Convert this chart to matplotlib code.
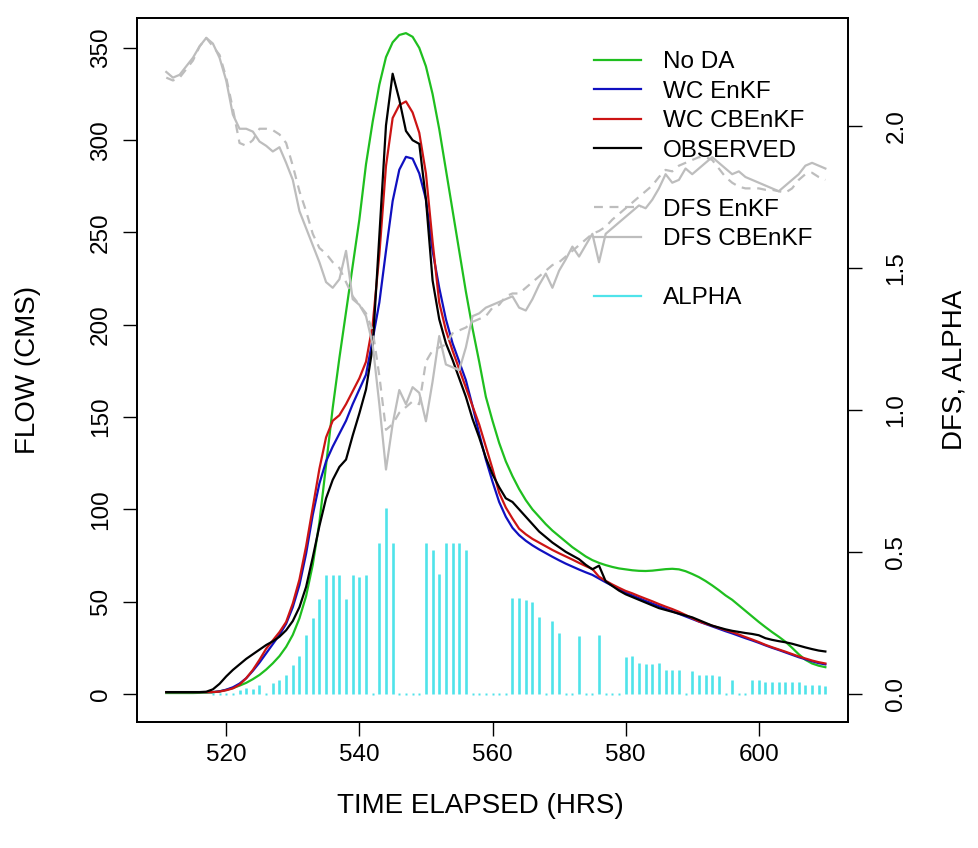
import numpy as np
import matplotlib
matplotlib.use("Agg")
import matplotlib.pyplot as plt
from matplotlib.lines import Line2D

plt.rcParams['font.family'] = ['Liberation Sans', 'DejaVu Sans']

# hourly series, 511 .. 610 hrs
hours = np.arange(511, 611)

no_da = [0.5, 0.5, 0.5, 0.5, 0.5, 0.6, 0.7, 0.9, 1.4, 2.2,
         3.2, 4.5, 6.0, 8.0, 10.3, 13.2, 16.6, 20.5, 25.5, 32,
         41, 53, 70, 93, 124, 155, 182, 207, 232, 257,
         287, 310, 330, 345, 353, 357, 358, 356, 350, 340,
         325, 306, 284, 262, 240, 218, 198, 180, 161, 148,
         136, 126, 118, 111, 105, 100, 96, 92, 88.5, 85.5,
         82.5, 79.5, 77, 74.5, 72.5, 71, 69.8, 68.8, 68, 67.5,
         67, 66.7, 66.6, 66.8, 67.2, 67.6, 67.8, 67.5, 66.5, 65,
         63.3, 61.2, 58.8, 56.2, 53.4, 51, 48, 45, 42, 39,
         36.2, 33.5, 31, 28.3, 25, 21.5, 18.5, 16.5, 15.3, 14.5]

observed = [1, 1, 1, 1, 1, 1, 1.2, 2.5, 5.5, 9.5,
            13, 16, 19, 21.5, 24, 26.5, 28.5, 31, 34.5, 39.5,
            47, 58, 74, 91, 106, 116, 123, 127, 140, 152,
            165, 188, 248, 308, 336, 322, 305, 300, 298, 268,
            224, 203, 190, 181, 171, 161, 149, 139, 128, 119,
            112, 106, 104, 100, 96, 92, 88, 85, 82, 79.5,
            77, 75, 73, 70, 67.5, 69.5, 61, 58.5, 56, 54,
            52.5, 51, 49.5, 48, 46.5, 45.5, 44.5, 43.5, 42.5, 41.5,
            40, 38.5, 37, 36, 35, 34.2, 33.6, 33, 32.5, 31.8,
            30.2, 29.3, 28.6, 28, 27.2, 26.2, 25.2, 24.3, 23.5, 23]

wc_cbenkf = [1, 1, 1, 1, 1, 1, 1, 1, 1.3, 2,
             3, 5, 8.5, 13, 18.5, 24.5, 29, 33.5, 39, 49,
             62, 80, 101, 122, 139, 148, 151, 157, 164, 171,
             180, 200, 238, 286, 312, 319, 321, 315, 304, 282,
             245, 212, 197, 186, 176, 166, 156, 146, 134, 122,
             109, 101, 95, 89.5, 86.5, 84, 82, 80, 78, 76.2,
             74.5, 72.8, 71, 69.3, 67.7, 63.5, 61.3, 59.3, 57.5, 55.8,
             54.5, 53, 51.6, 50.2, 48.7, 47.3, 46, 44.5, 42.8, 41,
             39.3, 38.1, 37, 35.8, 34.6, 33.5, 32.2, 30.8, 29.5, 28.1,
             26.6, 25.3, 24.1, 22.9, 21.6, 20.3, 19.2, 18.1, 17.2, 16.5]

wc_enkf = [1, 1, 1, 1, 1, 1, 1, 1, 1.4, 2.3,
           3.6, 5.6, 8.5, 12.5, 17, 22, 27, 32, 38, 47,
           59, 76, 97, 114, 126, 134, 141, 148, 157, 165,
           173, 192, 212, 240, 267, 284, 291, 290, 282, 268,
           240, 220, 203, 190, 180, 170, 156, 141, 127, 115,
           104, 96, 90, 86, 83, 80.5, 78.3, 76.3, 74.3, 72.4,
           70.6, 69, 67.4, 65.9, 64.5, 62.5, 60.5, 58.6, 56.8, 55,
           53.4, 51.9, 50.4, 49, 47.6, 46.2, 44.8, 43.4, 42, 40.6,
           39.2, 37.9, 36.6, 35.3, 34, 32.8, 31.5, 30.2, 29, 27.7,
           26.3, 25, 23.8, 22.5, 21.2, 19.9, 18.8, 17.7, 16.7, 16]

dfs_cbenkf = [2.19, 2.17, 2.18, 2.21, 2.24, 2.28, 2.31, 2.29, 2.24, 2.16,
              2.04, 1.99, 1.99, 1.98, 1.945, 1.93, 1.91, 1.925, 1.87, 1.81,
              1.70, 1.64, 1.58, 1.52, 1.45, 1.43, 1.46, 1.56, 1.39, 1.37,
              1.33, 1.23, 1.02, 0.79, 0.95, 1.07, 1.02, 1.08, 1.06, 0.96,
              1.10, 1.26, 1.16, 1.15, 1.14, 1.22, 1.33, 1.34, 1.36, 1.37,
              1.38, 1.39, 1.40, 1.36, 1.35, 1.39, 1.44, 1.48, 1.43, 1.49,
              1.53, 1.575, 1.54, 1.58, 1.62, 1.52, 1.62, 1.64, 1.66, 1.68,
              1.70, 1.72, 1.71, 1.74, 1.78, 1.83, 1.80, 1.81, 1.85, 1.83,
              1.85, 1.87, 1.89, 1.87, 1.85, 1.83, 1.84, 1.82, 1.81, 1.80,
              1.79, 1.78, 1.77, 1.79, 1.81, 1.83, 1.86, 1.87, 1.86, 1.85]

dfs_enkf = [2.17, 2.16, 2.17, 2.20, 2.23, 2.28, 2.31, 2.28, 2.25, 2.17,
            2.06, 1.94, 1.93, 1.95, 1.99, 1.99, 1.985, 1.97, 1.94, 1.86,
            1.77, 1.70, 1.62, 1.57, 1.55, 1.52, 1.50, 1.45, 1.40, 1.37,
            1.34, 1.28, 1.12, 0.93, 0.95, 0.99, 1.01, 1.03, 1.02, 1.17,
            1.21, 1.22, 1.23, 1.27, 1.28, 1.29, 1.31, 1.32, 1.33, 1.36,
            1.37, 1.40, 1.41, 1.41, 1.43, 1.45, 1.47, 1.49, 1.51, 1.52,
            1.54, 1.56, 1.58, 1.60, 1.62, 1.63, 1.645, 1.67, 1.69, 1.71,
            1.73, 1.75, 1.77, 1.79, 1.82, 1.845, 1.84, 1.86, 1.87, 1.88,
            1.89, 1.89, 1.88, 1.85, 1.82, 1.80, 1.786, 1.78, 1.78, 1.78,
            1.775, 1.775, 1.77, 1.765, 1.78, 1.81, 1.83, 1.835, 1.82, 1.81]

nan = np.nan
alpha = [nan, nan, nan, nan, nan, nan, nan, 0, 0, 0,
         0, 0.012, 0.02, 0.016, 0.032, 0, 0.038, 0.049, 0.065, 0.10,
         0.134, 0.208, 0.266, 0.334, 0.42, 0.42, 0.42, 0.334, 0.42, 0.413,
         0.42, 0, 0.53, 0.655, 0.53, 0, 0, 0, 0, 0.53,
         0.507, 0.422, 0.53, 0.53, 0.53, 0.507, 0, 0, 0, 0,
         0, 0, 0.337, 0.337, 0.331, 0.323, 0.269, 0, 0.258, 0.214,
         0, 0, 0.205, 0, 0, 0.207, 0, 0, 0, 0.13,
         0.135, 0.108, 0.105, 0.105, 0.108, 0.085, 0.085, 0.085, 0, 0.082,
         0.067, 0.067, 0.067, 0.063, 0, 0.049, 0, 0, 0.049, 0.049,
         0.041, 0.041, 0.041, 0.041, 0.041, 0.041, 0.032, 0.032, 0.032, 0.028]
alpha = np.array(alpha)

GREEN = '#1fbf1f'
BLUE = '#1010c0'
RED = '#cc1414'
GRAY = '#bdbdbd'
CYAN = '#4fe3ea'

fig = plt.figure(figsize=(9.79, 8.48), dpi=100)
ax = fig.add_axes([137 / 979, 1 - 722 / 848, (848 - 137) / 979, (722 - 18) / 848])

lw = 1.6
ax.plot(hours, no_da, color=GREEN, lw=lw)
ax.plot(hours, wc_enkf, color=BLUE, lw=lw)
ax.plot(hours, wc_cbenkf, color=RED, lw=lw)
ax.plot(hours, observed, color='black', lw=lw)

ax.set_xlim(506.6, 613.4)
ax.set_ylim(-15.2, 366.2)
ax.set_xticks([520, 540, 560, 580, 600])
ax.set_yticks(np.arange(0, 351, 50))
ax.tick_params(axis='both', labelsize=17.5, length=10, width=1.0, direction='out')
ax.tick_params(axis='x', pad=6)
ax.tick_params(axis='y', pad=8, labelrotation=90)
for t in ax.get_yticklabels():
    t.set_va('center')
for s in ax.spines.values():
    s.set_linewidth(1.3)

# legend (blank rows as in the original)
blank = Line2D([], [], color='none')
handles = [Line2D([], [], color=GREEN, lw=lw), Line2D([], [], color=BLUE, lw=lw),
           Line2D([], [], color=RED, lw=lw), Line2D([], [], color='black', lw=lw),
           blank,
           Line2D([], [], color=GRAY, lw=lw, ls=(0, (4, 3))), Line2D([], [], color=GRAY, lw=lw),
           blank,
           Line2D([], [], color=CYAN, lw=lw)]
labels = ['No DA', 'WC EnKF', 'WC CBEnKF', 'OBSERVED', ' ', 'DFS EnKF', 'DFS CBEnKF', ' ', 'ALPHA']
ax.legend(handles, labels, loc='upper left', bbox_to_anchor=(0.6428, 0.953),
          frameon=False, fontsize=17.5, borderpad=0, labelspacing=0.31,
          handlelength=1.93, handletextpad=0.9, borderaxespad=0)

# second axis: DFS and ALPHA
ax2 = ax.twinx()
ok = ~np.isnan(alpha)
pos = ok & (alpha > 0)
zero = ok & (alpha == 0)
ax2.vlines(hours[pos], 0, alpha[pos], color=CYAN, lw=1.9)
ax2.plot(hours[zero], alpha[zero], ls='none', marker='s', ms=2.0, color=CYAN, mec='none')
ax2.plot(hours, dfs_enkf, color=GRAY, lw=lw, ls=(0, (4, 3)))
ax2.plot(hours, dfs_cbenkf, color=GRAY, lw=lw)

ax2.set_ylim(-0.099, 2.38)
ax2.set_yticks([0.0, 0.5, 1.0, 1.5, 2.0])
ax2.set_yticklabels(['0.0', '0.5', '1.0', '1.5', '2.0'])
ax2.tick_params(axis='y', labelsize=17.5, length=10, width=1.0, pad=17, labelrotation=90)
for t in ax2.get_yticklabels():
    t.set_va('center')
for s in ax2.spines.values():
    s.set_linewidth(1.3)

fig.text(28 / 979, 1 - 370 / 848, 'FLOW (CMS)', rotation=90, ha='center', va='center', fontsize=20)
fig.text(955 / 979, 1 - 370 / 848, 'DFS, ALPHA', rotation=90, ha='center', va='center', fontsize=20)
fig.text(480 / 979, 1 - 806 / 848, 'TIME ELAPSED (HRS)', ha='center', va='center', fontsize=20)

fig.savefig('out.png', dpi=100, facecolor='white')
